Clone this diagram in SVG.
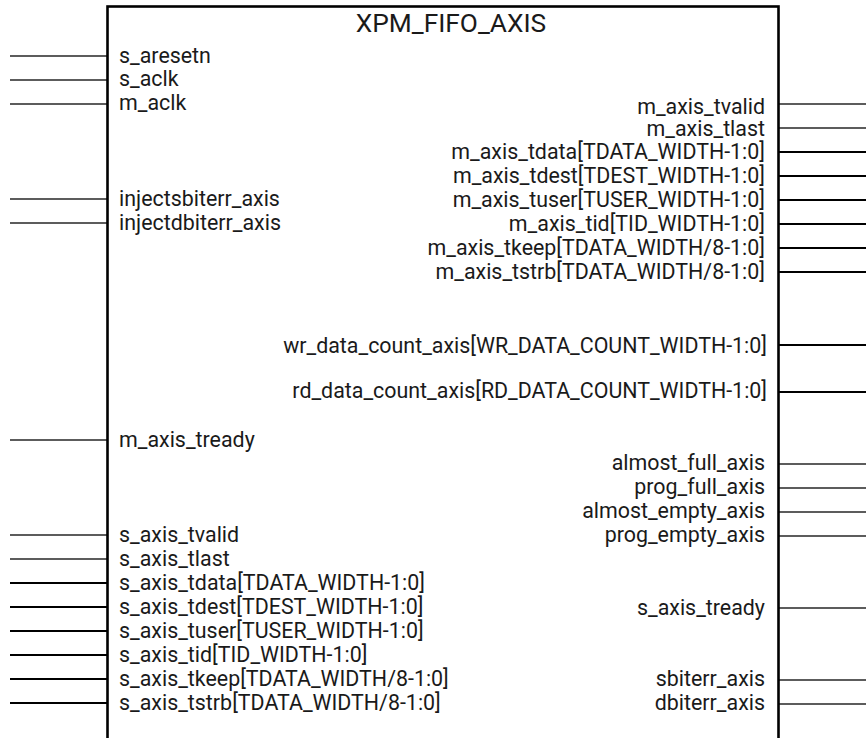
<svg xmlns="http://www.w3.org/2000/svg" width="866" height="738" viewBox="0 0 866 738">
<style>
.t{font-family:Roboto,"Liberation Sans",sans-serif;font-size:21.4px;fill:#1a1a1a}
.l{text-anchor:start}
.r{text-anchor:end}
.title{font-family:Roboto,"Liberation Sans",sans-serif;font-size:26.3px;fill:#1a1a1a;text-anchor:middle}
.w{stroke:#262626;stroke-width:1.3;fill:none}
.b{stroke:#000;stroke-width:2.2;fill:none}
.box{stroke:#000;stroke-width:2.6;fill:#fff}
</style>
<rect width="866" height="738" fill="#fff"/>
<g id="connectors">
<line class="w" x1="10" y1="56" x2="107" y2="56"/>
<line class="w" x1="10" y1="80" x2="107" y2="80"/>
<line class="w" x1="10" y1="104" x2="107" y2="104"/>
<line class="w" x1="10" y1="199" x2="107" y2="199"/>
<line class="w" x1="10" y1="223" x2="107" y2="223"/>
<line class="w" x1="10" y1="440" x2="107" y2="440"/>
<line class="w" x1="10" y1="535" x2="107" y2="535"/>
<line class="w" x1="10" y1="559" x2="107" y2="559"/>
<line class="b" x1="10" y1="583" x2="107" y2="583"/>
<line class="b" x1="10" y1="607" x2="107" y2="607"/>
<line class="b" x1="10" y1="631" x2="107" y2="631"/>
<line class="b" x1="10" y1="655" x2="107" y2="655"/>
<line class="b" x1="10" y1="679" x2="107" y2="679"/>
<line class="b" x1="10" y1="703" x2="107" y2="703"/>
<line class="w" x1="778" y1="104" x2="866" y2="104"/>
<line class="w" x1="778" y1="128" x2="866" y2="128"/>
<line class="b" x1="778" y1="152" x2="866" y2="152"/>
<line class="b" x1="778" y1="176" x2="866" y2="176"/>
<line class="b" x1="778" y1="200" x2="866" y2="200"/>
<line class="b" x1="778" y1="224" x2="866" y2="224"/>
<line class="b" x1="778" y1="248" x2="866" y2="248"/>
<line class="b" x1="778" y1="272" x2="866" y2="272"/>
<line class="b" x1="778" y1="345" x2="866" y2="345"/>
<line class="b" x1="778" y1="392" x2="866" y2="392"/>
<line class="w" x1="778" y1="464" x2="866" y2="464"/>
<line class="w" x1="778" y1="488" x2="866" y2="488"/>
<line class="w" x1="778" y1="512" x2="866" y2="512"/>
<line class="w" x1="778" y1="536" x2="866" y2="536"/>
<line class="w" x1="778" y1="608" x2="866" y2="608"/>
<line class="w" x1="778" y1="680" x2="866" y2="680"/>
<line class="w" x1="778" y1="704" x2="866" y2="704"/>
</g>
<g id="xpm_fifo_axis">
<rect class="box" x="107.5" y="6.5" width="671" height="760"/>
<text class="title" x="451" y="32">XPM_FIFO_AXIS</text>
<text class="t l" x="119" y="62.5">s_aresetn</text>
<text class="t l" x="119" y="86">s_aclk</text>
<text class="t l" x="119" y="110">m_aclk</text>
<text class="t l" x="119" y="206">injectsbiterr_axis</text>
<text class="t l" x="119" y="230">injectdbiterr_axis</text>
<text class="t l" x="119" y="446.5">m_axis_tready</text>
<text class="t l" x="119" y="541.5">s_axis_tvalid</text>
<text class="t l" x="119" y="565.5">s_axis_tlast</text>
<text class="t l" x="119" y="589.5">s_axis_tdata[TDATA_WIDTH-1:0]</text>
<text class="t l" x="119" y="613.5">s_axis_tdest[TDEST_WIDTH-1:0]</text>
<text class="t l" x="119" y="637.5">s_axis_tuser[TUSER_WIDTH-1:0]</text>
<text class="t l" x="119" y="661.5">s_axis_tid[TID_WIDTH-1:0]</text>
<text class="t l" x="119" y="685.5">s_axis_tkeep[TDATA_WIDTH/8-1:0]</text>
<text class="t l" x="119" y="709.5">s_axis_tstrb[TDATA_WIDTH/8-1:0]</text>
<text class="t r" x="765" y="113.5">m_axis_tvalid</text>
<text class="t r" x="765" y="136">m_axis_tlast</text>
<text class="t r" x="765" y="158.5">m_axis_tdata[TDATA_WIDTH-1:0]</text>
<text class="t r" x="765" y="182.5">m_axis_tdest[TDEST_WIDTH-1:0]</text>
<text class="t r" x="765" y="206.5">m_axis_tuser[TUSER_WIDTH-1:0]</text>
<text class="t r" x="765" y="230.5">m_axis_tid[TID_WIDTH-1:0]</text>
<text class="t r" x="765" y="254.5">m_axis_tkeep[TDATA_WIDTH/8-1:0]</text>
<text class="t r" x="765" y="278.5">m_axis_tstrb[TDATA_WIDTH/8-1:0]</text>
<text class="t r" x="767" y="353">wr_data_count_axis[WR_DATA_COUNT_WIDTH-1:0]</text>
<text class="t r" x="767" y="398">rd_data_count_axis[RD_DATA_COUNT_WIDTH-1:0]</text>
<text class="t r" x="765" y="470">almost_full_axis</text>
<text class="t r" x="765" y="494">prog_full_axis</text>
<text class="t r" x="765" y="517.5">almost_empty_axis</text>
<text class="t r" x="765" y="541.5">prog_empty_axis</text>
<text class="t r" x="765" y="614.5">s_axis_tready</text>
<text class="t r" x="765" y="686">sbiterr_axis</text>
<text class="t r" x="765" y="709.5">dbiterr_axis</text>
</g>
</svg>
